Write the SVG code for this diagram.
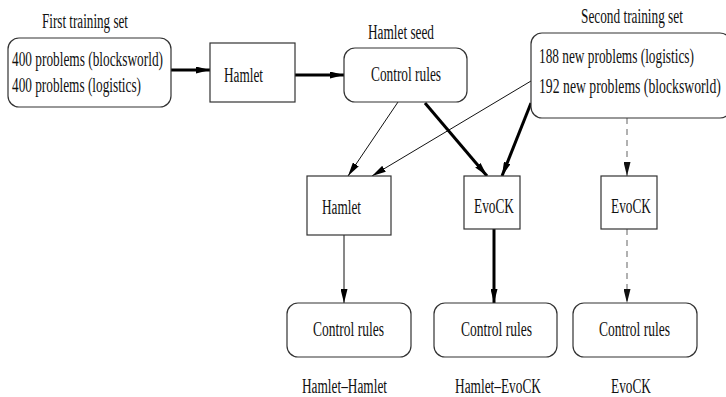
<svg xmlns="http://www.w3.org/2000/svg" width="726" height="397" viewBox="0 0 726 397">
<style>
text{font-family:"Liberation Serif","Times New Roman",serif;font-size:20px;fill:#111}
.box{fill:#fff;stroke:#333;stroke-width:1.2}
.thin{stroke:#111;stroke-width:1;fill:none}
.thick{stroke:#000;stroke-width:3;fill:none}
.dash{stroke:#888;stroke-width:1.3;stroke-dasharray:6 5;fill:none}
</style>
<defs>
<marker id="ah" viewBox="0 0 14 7" refX="14" refY="3.5" markerWidth="14" markerHeight="7" markerUnits="userSpaceOnUse" orient="auto"><path d="M0,0 L14,3.5 L0,7 z" fill="#000"/></marker>
<marker id="ahg" viewBox="0 0 14 7" refX="14" refY="3.5" markerWidth="14" markerHeight="7" markerUnits="userSpaceOnUse" orient="auto"><path d="M0,0 L14,3.5 L0,7 z" fill="#111"/></marker>
</defs>
<g id="labels">
<text x="42" y="28" textLength="86" lengthAdjust="spacingAndGlyphs">First training set</text>
<text x="368" y="39" textLength="66" lengthAdjust="spacingAndGlyphs">Hamlet seed</text>
<text transform="translate(581,23) scale(0.665,1)" x="0" y="0">Second training set</text>
<text x="302" y="393" textLength="85" lengthAdjust="spacingAndGlyphs">Hamlet–Hamlet</text>
<text x="455" y="393" textLength="86" lengthAdjust="spacingAndGlyphs">Hamlet–EvoCK</text>
<text x="611" y="393" textLength="40" lengthAdjust="spacingAndGlyphs">EvoCK</text>
</g>
<g id="connectors">
<line class="thick" x1="171" y1="70" x2="210" y2="70" marker-end="url(#ah)"/>
<line class="thick" x1="295" y1="75" x2="344" y2="75" marker-end="url(#ah)"/>
<line class="thin" x1="398" y1="102" x2="348" y2="176" marker-end="url(#ah)"/>
<line class="thin" x1="531" y1="81" x2="372" y2="176" marker-end="url(#ah)"/>
<line class="thick" x1="425" y1="103" x2="487" y2="176" marker-end="url(#ah)"/>
<line class="thick" x1="531" y1="103" x2="502" y2="176" marker-end="url(#ah)"/>
<line class="dash" x1="627" y1="118" x2="627" y2="176" marker-end="url(#ahg)"/>
<line class="thin" x1="344" y1="235" x2="344" y2="303" marker-end="url(#ah)"/>
<line class="thick" x1="494" y1="229" x2="494" y2="303" marker-end="url(#ah)"/>
<line class="dash" x1="627" y1="229" x2="627" y2="303" marker-end="url(#ahg)"/>
</g>
<g id="first-set">
<rect class="box" x="8" y="38" width="163" height="69" rx="11"/>
<text x="12" y="66" textLength="151" lengthAdjust="spacingAndGlyphs">400 problems (blocksworld)</text>
<text x="12" y="92" textLength="129" lengthAdjust="spacingAndGlyphs">400 problems (logistics)</text>
</g>
<g id="hamlet-1">
<rect class="box" x="210" y="43" width="85" height="59"/>
<text x="224" y="82" textLength="39" lengthAdjust="spacingAndGlyphs">Hamlet</text>
</g>
<g id="seed-rules">
<rect class="box" x="344" y="48" width="123" height="54" rx="11"/>
<text x="371" y="81" textLength="70" lengthAdjust="spacingAndGlyphs">Control rules</text>
</g>
<g id="second-set">
<rect class="box" x="531" y="33" width="200" height="85" rx="11"/>
<text transform="translate(539,63) scale(0.666,1)" x="0" y="0">188 new problems (logistics)</text>
<text transform="translate(539,93) scale(0.687,1)" x="0" y="0">192 new problems (blocksworld)</text>
</g>
<g id="hamlet-2">
<rect class="box" x="307" y="176" width="84" height="59"/>
<text x="322" y="214" textLength="39" lengthAdjust="spacingAndGlyphs">Hamlet</text>
</g>
<g id="evock-2">
<rect class="box" x="464" y="176" width="56" height="53"/>
<text x="474" y="213" textLength="40" lengthAdjust="spacingAndGlyphs">EvoCK</text>
</g>
<g id="evock-3">
<rect class="box" x="601" y="176" width="56" height="53"/>
<text x="611" y="213" textLength="40" lengthAdjust="spacingAndGlyphs">EvoCK</text>
</g>
<g id="rules-hh">
<rect class="box" x="287" y="303" width="124" height="54" rx="11"/>
<text x="313" y="336" textLength="71" lengthAdjust="spacingAndGlyphs">Control rules</text>
</g>
<g id="rules-he">
<rect class="box" x="434" y="303" width="123" height="54" rx="11"/>
<text x="461" y="336" textLength="71" lengthAdjust="spacingAndGlyphs">Control rules</text>
</g>
<g id="rules-e">
<rect class="box" x="573" y="303" width="124" height="54" rx="11"/>
<text x="599" y="336" textLength="71" lengthAdjust="spacingAndGlyphs">Control rules</text>
</g>
</svg>
